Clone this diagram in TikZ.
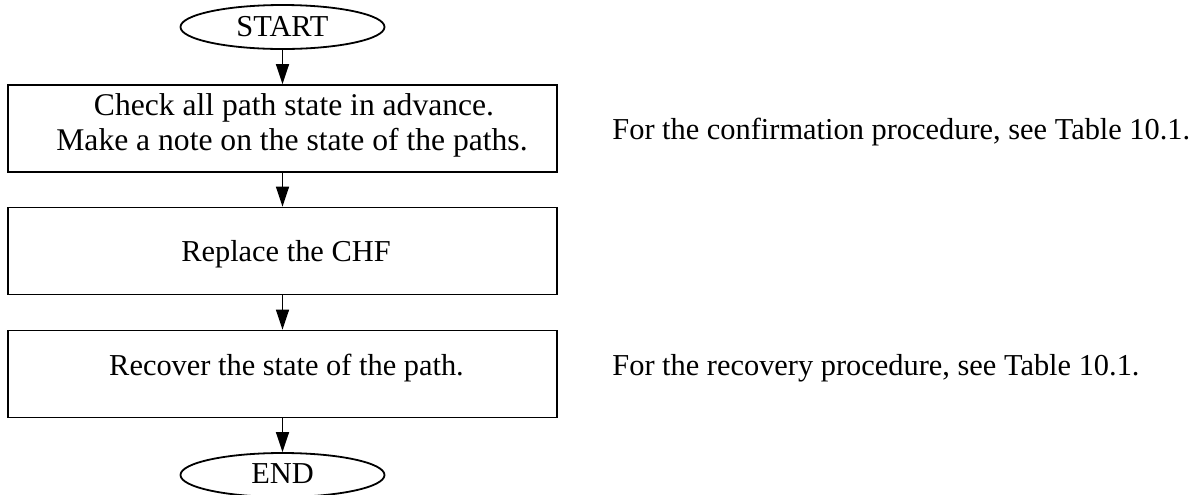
\documentclass[tikz,border=0pt]{standalone}
\usepackage{fontspec}
\setmainfont{Liberation Serif}
\usetikzlibrary{shapes.geometric,arrows.meta}
\tikzset{
  txt/.style={font=\fontsize{15.2}{18}\selectfont, inner sep=0pt},
  bigtxt/.style={font=\fontsize{15.8}{18}\selectfont, inner sep=0pt},
  procbox/.style={draw, line width=0.9pt, rectangle, minimum width=274.5pt, minimum height=43.5pt, inner sep=0pt},
  term/.style={draw, line width=0.9pt, ellipse, minimum width=102pt, minimum height=22pt, inner sep=0pt},
  arr/.style={line width=0.8pt, -{Triangle[length=10pt,width=6.5pt]}}
}
\begin{document}
\begin{tikzpicture}[x=0.5pt,y=-0.5pt]
\useasboundingbox (0,0) rectangle (1201,494);
\node[term] (start) at (282.5,27) {};
\node[txt, anchor=base] (starttxt) at (282.5,36) {START};
\node[procbox] (b1) at (282.5,128.5) {};
\node[bigtxt, anchor=base] (b1a) at (294,115.7) {Check all path state in advance.};
\node[bigtxt, anchor=base] (b1b) at (292,150.7) {Make a note on the state of the paths.};
\node[procbox] (b2) at (282.5,251) {};
\node[txt, anchor=base] (b2t) at (286,261) {Replace the CHF};
\node[procbox] (b3) at (282.5,374) {};
\node[txt, anchor=base] (b3t) at (286.5,375) {Recover the state of the path.};
\node[term] (end) at (282.5,475) {};
\node[txt, anchor=base] (endtxt) at (282.5,483) {END};
\node[txt, anchor=base west] (n1) at (612,139) {For the confirmation procedure, see Table 10.1.};
\node[txt, anchor=base west] (n2) at (612,375) {For the recovery procedure, see Table 10.1.};
\draw[arr] (start) -- (b1);
\draw[arr] (b1) -- (b2);
\draw[arr] (b2) -- (b3);
\draw[arr] (b3) -- (end);
\end{tikzpicture}
\end{document}
